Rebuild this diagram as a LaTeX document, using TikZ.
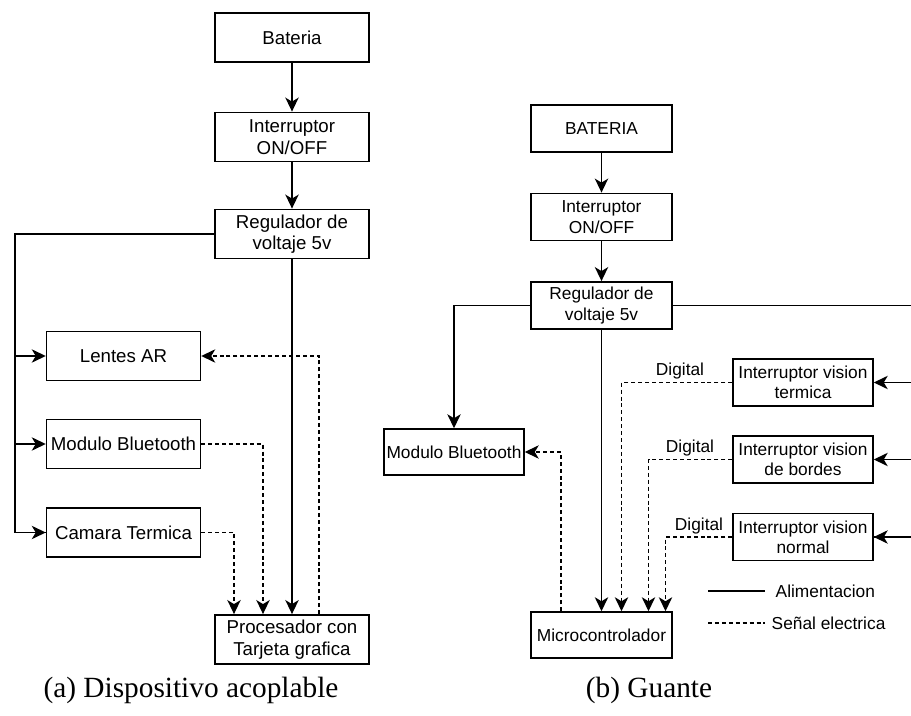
\documentclass[tikz,border=0pt]{standalone}
\usepackage{fontspec}
\setmainfont{Liberation Serif}
\newfontfamily\diagfont{Liberation Sans}
\usetikzlibrary{arrows.meta}
\begin{document}
\begin{tikzpicture}[x=0.75pt,y=-0.75pt,
  line width=1.1pt,
  tip/.style={-{Stealth[length=10.5pt,width=10pt,inset=3pt]}},
  sig/.style={dash pattern=on 3pt off 2.2pt},
  lbox/.style={draw,rectangle,inner sep=0pt,minimum width=115.5pt,minimum height=37pt,align=center,font=\diagfont\fontsize{14}{16.2}\selectfont},
  rbox/.style={draw,rectangle,inner sep=0pt,minimum width=105.5pt,minimum height=35.5pt,align=center,font=\diagfont\fontsize{13}{15.2}\selectfont},
  lab/.style={inner sep=0pt,font=\diagfont\fontsize{13}{15.2}\selectfont},
  captext/.style={inner sep=0pt,font=\fontsize{22}{26}\selectfont}]
\useasboundingbox (0,0) rectangle (911,716);
\clip (0,0) rectangle (911,716);
% ---------- (a) ----------
\node[lbox] (bat) at (292,37.5) {Bateria};
\node[lbox] (int) at (292,137) {Interruptor\\ON/OFF};
\node[lbox] (reg) at (292,234) {Regulador de\\voltaje 5v};
\node[lbox] (len) at (123.5,356) {Lentes AR};
\node[lbox] (blu) at (123.5,444) {Modulo Bluetooth};
\node[lbox] (cam) at (123.5,532.5) {Camara Termica};
\node[lbox] (pro) at (292,639.5) {Procesador con\\Tarjeta grafica};
\coordinate (lx) at (15,234);
\draw[tip] (bat) -- (int);
\draw[tip] (int) -- (reg);
\draw[tip] (reg.south) -- (pro.north);
\draw (reg.west) -- (lx) |- (cam.west);
\draw[tip] (lx |- cam.west) -- (cam.west);
\draw[tip] (lx |- len.west) -- (len.west);
\draw[tip] (lx |- blu.west) -- (blu.west);
\draw[sig,tip] ([xshift=20.25pt]pro.north) |- (len.east);
\draw[sig,tip] (blu.east) -| ([xshift=-21.75pt]pro.north);
\draw[sig,tip] (cam.east) -| ([xshift=-43.5pt]pro.north);
\node[captext] (capa) at (191,690) {(a) Dispositivo acoplable};
% ---------- (b) ----------
\node[rbox] (bat2) at (601.5,128.5) {BATERIA};
\node[rbox] (int2) at (601.5,217) {Interruptor\\ON/OFF};
\node[rbox] (reg2) at (601.5,305.5) {Regulador de\\voltaje 5v};
\node[rbox,minimum height=34.5pt] (mic) at (601.5,635) {Microcontrolador};
\node[rbox,minimum width=105pt,minimum height=34.5pt] (blu2) at (454,452) {Modulo Bluetooth};
\node[rbox,minimum width=105pt] (ter) at (803,382.5) {Interruptor vision\\termica};
\node[rbox,minimum width=105pt] (bor) at (803,459.5) {Interruptor vision\\de bordes};
\node[rbox,minimum width=105pt] (nor) at (803,537) {Interruptor vision\\normal};
\coordinate (rx) at (930,305.5);
\draw[tip] (bat2) -- (int2);
\draw[tip] (int2) -- (reg2);
\draw[tip] (reg2.south) -- (mic.north);
\draw[tip] (reg2.west) -| (blu2.north);
\draw (reg2.east) -- (rx) |- (nor.east);
\draw[tip] (rx |- ter.east) -- (ter.east);
\draw[tip] (rx |- bor.east) -- (bor.east);
\draw[tip] (rx |- nor.east) -- (nor.east);
\draw[sig,tip] (ter.west) -| ([xshift=15pt]mic.north);
\draw[sig,tip] (bor.west) -| ([xshift=35.25pt]mic.north);
\draw[sig,tip] (nor.west) -| ([xshift=48pt]mic.north);
\draw[sig,tip] ([xshift=-30.4pt]mic.north) |- (blu2.east);
\node[lab] (d1) at (680,371) {Digital};
\node[lab] (d2) at (690,448) {Digital};
\node[lab] (d3) at (699,526) {Digital};
\coordinate (la1) at (708,591);
\coordinate (la2) at (765,591);
\coordinate (lb1) at (708,623);
\coordinate (lb2) at (765,623);
\draw (la1) -- (la2);
\draw[sig] (lb1) -- (lb2);
\node[lab,anchor=west] (alim) at (775,591) {Alimentacion};
\node[lab,anchor=west] (sen) at (771,623) {Señal electrica};
\node[captext] (capb) at (649,690) {(b) Guante};
\end{tikzpicture}
\end{document}
